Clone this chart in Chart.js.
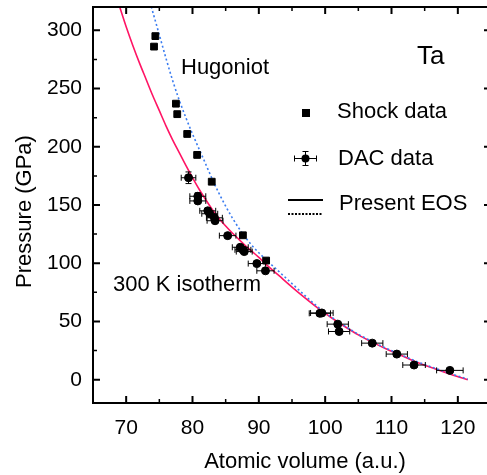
<!DOCTYPE html>
<html>
<head>
<meta charset="utf-8">
<title>Ta EOS</title>
<script src="https://cdn.jsdelivr.net/npm/chart.js@4.4.1/dist/chart.umd.min.js"></script>
<style>
  html, body { margin: 0; padding: 0; background: #fff; overflow: hidden; }
  #wrap { width: 500px; height: 475px; }
</style>
</head>
<body>
<div id="wrap"><canvas id="myChart" width="500" height="475"></canvas></div>
<script>
// Isoterma de 300 K (linea continua rosa)
var isoV = [68.8, 70, 71, 72, 73, 74, 75, 76, 77, 78, 79, 80, 81, 82, 83, 84, 85, 86, 87, 88, 89, 90, 91, 93, 95, 97, 99, 101, 103, 105, 107, 109, 111, 113, 115, 117, 119, 121.5];
var isoP = [324, 303, 287, 272, 258, 244, 231, 218, 206, 195, 184, 173.5, 163.5, 154.5, 146, 138.5, 132, 126, 120.5, 115, 110, 105, 99.5, 89.5, 79.5, 70, 61, 53, 45.5, 38.5, 32.5, 27, 22, 17, 12.5, 8.5, 4.5, 0];

// Hugoniot (linea punteada azul)
var hugV = [73.6, 74, 75, 76, 77, 78, 79, 80, 81, 82, 83, 84, 85, 86, 87, 88, 89, 90, 91, 93, 95, 97, 99, 101, 103, 105, 107, 109, 111, 113, 115, 117, 119, 121.5];
var hugP = [324, 316, 296, 276, 257, 240, 225, 211, 198, 185, 172, 160, 149, 139, 130, 122, 115, 109, 103.5, 93, 82.5, 72, 62, 53.5, 46, 39, 33, 27.5, 22.5, 17.5, 13, 9, 5, 0.5];

// Datos de choque (cuadrados)
var shockV = [74.4, 74.2, 77.5, 77.7, 79.2, 80.7, 82.9, 87.6, 91.1];
var shockP = [295, 286, 237, 228, 211, 193, 170, 124, 102.3];

// Datos DAC (circulos con barras de error)
var dacV = [79.4, 80.8, 80.8, 82.3, 82.6, 83.3, 83.4, 85.3, 87.2, 87.6, 87.8, 89.7, 91.0, 99.2, 99.5, 101.9, 102.1, 107.1, 110.8, 113.4, 118.8];
var dacP = [173.4, 157.5, 153.5, 145, 142.5, 139, 136.5, 123.7, 113.7, 111.5, 110, 99.7, 93.5, 57, 57.3, 47.7, 41.4, 31.4, 22, 12.6, 8];
var dacXerr = [1.1, 1.2, 1.2, 1.2, 1.2, 1.2, 1.2, 1.25, 1.2, 1.2, 1.2, 1.3, 1.3, 1.6, 1.7, 1.6, 1.6, 1.6, 1.6, 1.7, 2.0];
var dacYerr = [5, 3, 0, 2, 0, 0, 0, 0, 0, 0, 0, 0, 0, 0, 0, 0, 0, 0, 0, 0, 0];

var xTicks = [70, 80, 90, 100, 110, 120];
var xMinor = [75, 85, 95, 105, 115];
var yTicks = [0, 50, 100, 150, 200, 250, 300];
var yMinor = [25, 75, 125, 175, 225, 275];

var FONT = "'Liberation Sans', Arial, sans-serif";

function pts(xs, ys) {
    return xs.map(function (v, i) { return { x: v, y: ys[i] }; });
}

// Marco con ticks hacia adentro
var frameTicks = {
    id: 'frameTicks',
    afterDraw: function (chart) {
        var ctx = chart.ctx, a = chart.chartArea;
        var sx = chart.scales.x, sy = chart.scales.y;
        ctx.save();
        ctx.strokeStyle = '#000';
        ctx.lineWidth = 2;
        ctx.strokeRect(a.left, a.top, a.right - a.left, a.bottom - a.top);

        function xt(v, len, w) {
            var p = sx.getPixelForValue(v);
            ctx.lineWidth = w;
            ctx.beginPath();
            ctx.moveTo(p, a.bottom); ctx.lineTo(p, a.bottom - len);
            ctx.moveTo(p, a.top); ctx.lineTo(p, a.top + len);
            ctx.stroke();
        }
        function yt(v, len, w) {
            var p = sy.getPixelForValue(v);
            ctx.lineWidth = w;
            ctx.beginPath();
            ctx.moveTo(a.left, p); ctx.lineTo(a.left + len, p);
            ctx.moveTo(a.right, p); ctx.lineTo(a.right - len, p);
            ctx.stroke();
        }
        xTicks.forEach(function (v) { xt(v, 7, 2); });
        xMinor.forEach(function (v) { xt(v, 4, 1.5); });
        yTicks.forEach(function (v) { yt(v, 7, 2); });
        yMinor.forEach(function (v) { yt(v, 4, 1.5); });
        ctx.restore();
    }
};

// Barras de error de los datos DAC
var errorBars = {
    id: 'errorBars',
    afterDatasetsDraw: function (chart) {
        var ctx = chart.ctx;
        var sx = chart.scales.x, sy = chart.scales.y;
        ctx.save();
        ctx.strokeStyle = '#000';
        ctx.lineWidth = 1;
        dacV.forEach(function (v, i) {
            var cx = sx.getPixelForValue(v), cy = sy.getPixelForValue(dacP[i]);
            var x0 = sx.getPixelForValue(v - dacXerr[i]), x1 = sx.getPixelForValue(v + dacXerr[i]);
            ctx.beginPath();
            ctx.moveTo(x0, cy); ctx.lineTo(x1, cy);
            ctx.moveTo(x0, cy - 3); ctx.lineTo(x0, cy + 3);
            ctx.moveTo(x1, cy - 3); ctx.lineTo(x1, cy + 3);
            if (dacYerr[i] > 0) {
                var y0 = sy.getPixelForValue(dacP[i] + dacYerr[i]), y1 = sy.getPixelForValue(dacP[i] - dacYerr[i]);
                ctx.moveTo(cx, y0); ctx.lineTo(cx, y1);
                ctx.moveTo(cx - 3, y0); ctx.lineTo(cx + 3, y0);
                ctx.moveTo(cx - 3, y1); ctx.lineTo(cx + 3, y1);
            }
            ctx.stroke();
        });
        ctx.restore();
    }
};

// Textos, leyenda y titulos de ejes
var labels = {
    id: 'labels',
    afterDraw: function (chart) {
        var ctx = chart.ctx;
        ctx.save();
        ctx.fillStyle = '#000';
        ctx.textBaseline = 'middle';
        ctx.textAlign = 'left';
        ctx.font = '22px ' + FONT;
        ctx.fillText('Hugoniot', 181, 68);
        ctx.fillText('300 K isotherm', 113, 285);
        ctx.fillText('Shock data', 337, 112);
        ctx.fillText('DAC data', 338, 158.5);
        ctx.fillText('Present EOS', 339, 204);
        ctx.font = '26px ' + FONT;
        ctx.fillText('Ta', 417, 57);

        // titulos de ejes
        ctx.font = '22px ' + FONT;
        ctx.textAlign = 'center';
        ctx.fillText('Atomic volume (a.u.)', 305, 462);
        ctx.translate(25, 211.5);
        ctx.rotate(-Math.PI / 2);
        ctx.fillText('Pressure (GPa)', 0, 0);
        ctx.setTransform(1, 0, 0, 1, 0, 0);

        // simbolos de la leyenda
        ctx.fillRect(302, 109, 8, 8);
        ctx.beginPath();
        ctx.arc(305.5, 158.5, 4, 0, Math.PI * 2);
        ctx.fill();
        ctx.lineWidth = 1;
        ctx.beginPath();
        ctx.moveTo(294.5, 158.5); ctx.lineTo(316.5, 158.5);
        ctx.moveTo(294.5, 155.5); ctx.lineTo(294.5, 161.5);
        ctx.moveTo(316.5, 155.5); ctx.lineTo(316.5, 161.5);
        ctx.moveTo(305.5, 151.5); ctx.lineTo(305.5, 165.5);
        ctx.moveTo(302.5, 151.5); ctx.lineTo(308.5, 151.5);
        ctx.moveTo(302.5, 165.5); ctx.lineTo(308.5, 165.5);
        ctx.stroke();
        ctx.lineWidth = 2;
        ctx.beginPath();
        ctx.moveTo(288, 200); ctx.lineTo(323, 200);
        ctx.stroke();
        ctx.setLineDash([2, 1.5]);
        ctx.beginPath();
        ctx.moveTo(288, 214); ctx.lineTo(323, 214);
        ctx.stroke();
        ctx.restore();
    }
};

var ctx = document.getElementById('myChart').getContext('2d');
var chart = new Chart(ctx, {
    type: 'scatter',
    data: {
        datasets: [{
            label: 'Shock data',
            data: pts(shockV, shockP),
            pointStyle: 'rect',
            pointRadius: 4.8,
            backgroundColor: '#000',
            borderColor: '#000',
            borderWidth: 1,
            order: 0
        }, {
            label: 'DAC data',
            data: pts(dacV, dacP),
            pointStyle: 'circle',
            pointRadius: 4,
            backgroundColor: '#000',
            borderColor: '#000',
            borderWidth: 1,
            order: 1
        }, {
            label: 'Hugoniot',
            data: pts(hugV, hugP),
            showLine: true,
            pointRadius: 0,
            borderColor: '#3a7cf0',
            borderWidth: 1.6,
            borderDash: [2, 2.5],
            cubicInterpolationMode: 'monotone',
            fill: false,
            order: 2
        }, {
            label: '300 K isotherm',
            data: pts(isoV, isoP),
            showLine: true,
            pointRadius: 0,
            borderColor: '#ff1464',
            borderWidth: 1.6,
            cubicInterpolationMode: 'monotone',
            fill: false,
            order: 3
        }]
    },
    options: {
        responsive: false,
        animation: false,
        layout: { padding: { top: 7, right: 9, bottom: 0, left: 0 } },
        plugins: {
            legend: { display: false },
            tooltip: { enabled: false }
        },
        scales: {
            x: {
                type: 'linear',
                min: 65,
                max: 125,
                afterBuildTicks: function (s) { s.ticks = xTicks.map(function (v) { return { value: v }; }); },
                afterFit: function (s) { s.height = 72; s.paddingLeft = 0; s.paddingRight = 0; },
                grid: { display: false, drawTicks: false },
                border: { display: false },
                ticks: { padding: 13, color: '#000', maxRotation: 0, autoSkip: false, font: { family: FONT, size: 21 } }
            },
            y: {
                type: 'linear',
                min: -20,
                max: 320,
                afterBuildTicks: function (s) { s.ticks = yTicks.map(function (v) { return { value: v }; }); },
                afterFit: function (s) { s.width = 93; s.paddingTop = 0; s.paddingBottom = 0; },
                grid: { display: false, drawTicks: false },
                border: { display: false },
                ticks: { padding: 11, color: '#000', autoSkip: false, font: { family: FONT, size: 21 } }
            }
        }
    },
    plugins: [errorBars, frameTicks, labels]
});
</script>
</body>
</html>
